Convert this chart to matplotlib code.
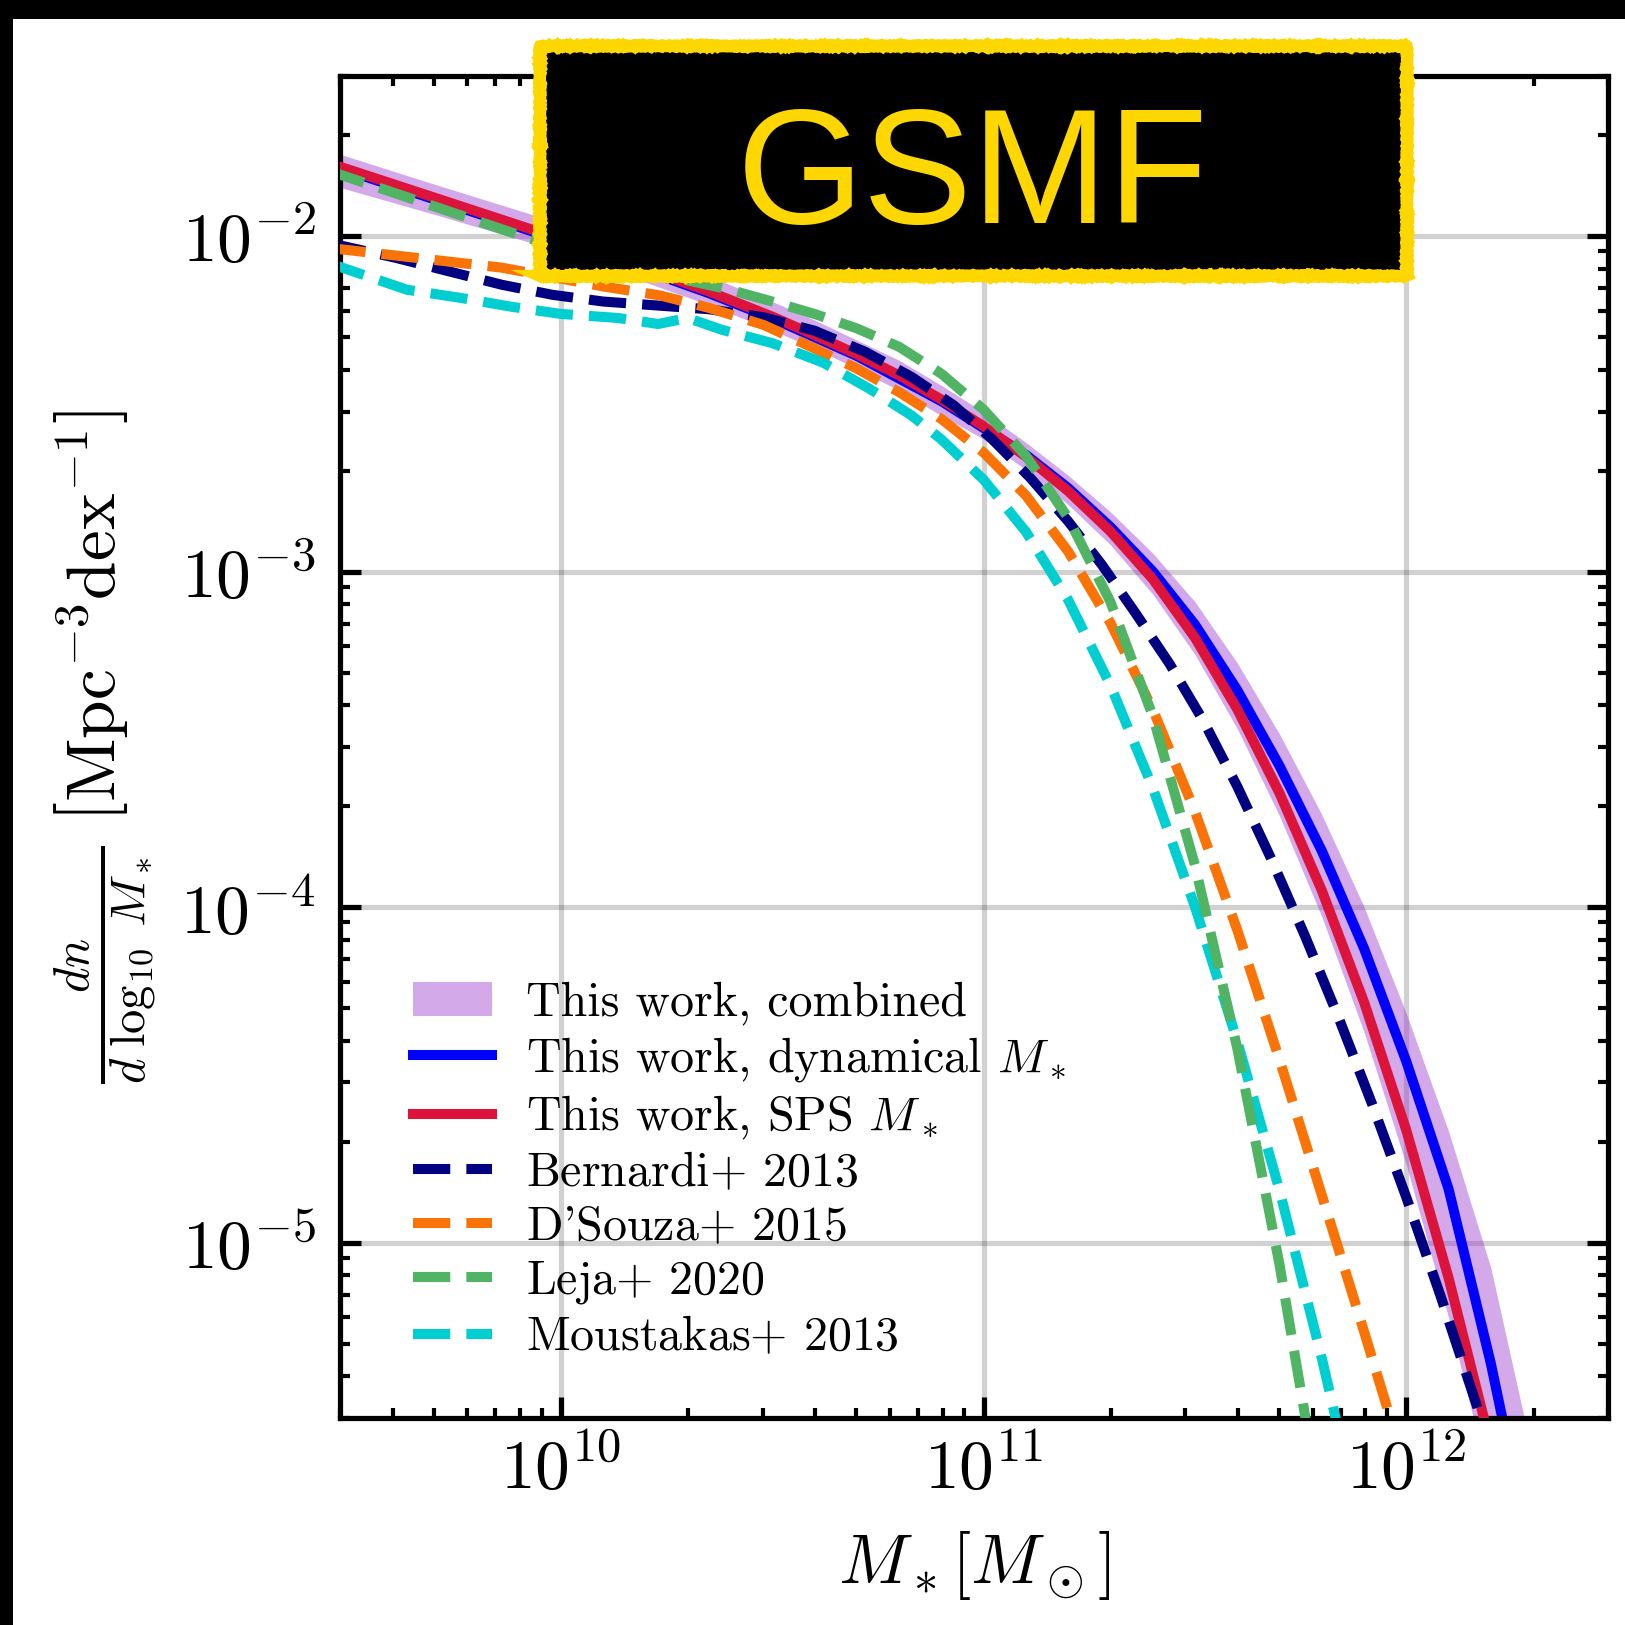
import numpy as np
import matplotlib
matplotlib.use("Agg")
import matplotlib.pyplot as plt
from matplotlib.patches import Rectangle

plt.rcParams["font.family"] = "serif"
plt.rcParams["font.serif"] = ["cmr10"]
plt.rcParams["mathtext.fontset"] = "cm"
plt.rcParams["axes.formatter.use_mathtext"] = True
plt.rcParams["axes.unicode_minus"] = False

# log10 stellar mass / log10 number density for each mass function
logm_comb = [9.45, 9.70, 9.93, 10.15, 10.35, 10.50, 10.60, 10.70, 10.80, 10.90, 11.00, 11.10,
             11.20, 11.30, 11.40, 11.50, 11.60, 11.70, 11.80, 11.90, 12.00, 12.10, 12.20, 12.30]
logphi_comb_hi = [-1.745, -1.845, -1.935, -2.03, -2.12, -2.195, -2.25, -2.31, -2.37, -2.445,
                  -2.525, -2.615, -2.713, -2.822, -2.945, -3.09, -3.272, -3.484, -3.724, -3.999,
                  -4.317, -4.668, -5.075, -5.64]
logphi_comb_lo = [-1.845, -1.935, -2.02, -2.115, -2.205, -2.28, -2.335, -2.395, -2.46, -2.535,
                  -2.605, -2.697, -2.80, -2.92, -3.067, -3.247, -3.468, -3.728, -4.028, -4.372,
                  -4.768, -5.223, -5.735, -6.3]

logm_dyn = [9.45, 9.70, 9.93, 10.15, 10.35, 10.50, 10.70, 10.90, 11.00, 11.10, 11.20, 11.30,
            11.40, 11.50, 11.60, 11.70, 11.80, 11.90, 12.00, 12.10, 12.20, 12.30]
logphi_dyn = [-1.787, -1.89, -1.985, -2.08, -2.17, -2.245, -2.357, -2.492, -2.572, -2.652,
              -2.751, -2.867, -2.999, -3.158, -3.353, -3.579, -3.832, -4.123, -4.46, -4.84,
              -5.36, -5.96]

logm_sps = [9.45, 9.70, 9.93, 10.15, 10.35, 10.50, 10.60, 10.70, 10.80, 10.90, 11.00, 11.10,
            11.20, 11.30, 11.40, 11.50, 11.60, 11.70, 11.80, 11.90, 12.00, 12.10, 12.20]
logphi_sps = [-1.782, -1.885, -1.98, -2.075, -2.165, -2.24, -2.295, -2.352, -2.415, -2.487,
              -2.567, -2.657, -2.76, -2.88, -3.022, -3.197, -3.41, -3.66, -3.95, -4.283,
              -4.665, -5.105, -5.605]

logm_b13 = [9.45, 9.61, 9.86, 9.98, 10.10, 10.23, 10.35, 10.48, 10.60, 10.72, 10.83, 10.93,
            11.02, 11.11, 11.20, 11.28, 11.36, 11.44, 11.52, 11.60, 11.68, 11.76, 11.84,
            11.92, 12.00, 12.08, 12.16, 12.22]
logphi_b13 = [-2.02, -2.065, -2.145, -2.175, -2.195, -2.207, -2.218, -2.242, -2.282, -2.345,
              -2.42, -2.505, -2.605, -2.72, -2.85, -2.98, -3.125, -3.275, -3.445, -3.64,
              -3.855, -4.085, -4.33, -4.59, -4.865, -5.155, -5.46, -5.69]

logm_d15 = [9.45, 9.86, 10.10, 10.235, 10.35, 10.48, 10.60, 10.70, 10.80, 10.90, 11.00, 11.10,
            11.20, 11.30, 11.40, 11.50, 11.60, 11.70, 11.80, 11.90, 12.00]
logphi_d15 = [-2.035, -2.094, -2.15, -2.177, -2.214, -2.265, -2.335, -2.395, -2.465, -2.545,
              -2.645, -2.773, -2.94, -3.153, -3.41, -3.715, -4.068, -4.455, -4.858, -5.265,
              -5.68]

logm_l20 = [9.45, 9.92, 10.15, 10.40, 10.50, 10.60, 10.70, 10.80, 10.90, 11.00, 11.10, 11.20,
            11.30, 11.40, 11.50, 11.60, 11.70, 11.80]
logphi_l20 = [-1.805, -2.005, -2.09, -2.16, -2.195, -2.232, -2.275, -2.33, -2.41, -2.517,
              -2.655, -2.84, -3.09, -3.43, -3.875, -4.42, -5.065, -5.81]

logm_m13 = [9.45, 9.636, 9.762, 9.88, 10.0, 10.135, 10.23, 10.30, 10.38, 10.50, 10.62, 10.73,
            10.83, 10.90, 11.00, 11.10, 11.20, 11.30, 11.40, 11.50, 11.60, 11.70, 11.80, 11.90]
logphi_m13 = [-2.08, -2.16, -2.184, -2.21, -2.232, -2.244, -2.262, -2.244, -2.279, -2.319,
              -2.377, -2.455, -2.535, -2.606, -2.726, -2.881, -3.084, -3.339, -3.644, -3.999,
              -4.399, -4.844, -5.344, -5.89]


def p10(a):
    return 10.0 ** np.asarray(a)


fig = plt.figure(figsize=(6.5, 6.5), dpi=250)
fig.patch.set_facecolor("white")

# dark strips along the top and left edge of the canvas
fig.add_artist(Rectangle((0, 1 - 19 / 1625), 1, 19 / 1625, transform=fig.transFigure,
                         fc="k", ec="none", zorder=0))
fig.add_artist(Rectangle((0, 0), 13 / 1625, 1, transform=fig.transFigure,
                         fc="k", ec="none", zorder=0))

ax = fig.add_axes([0.2092, 0.1274, 0.7803, 0.8258])
ax.set_xscale("log")
ax.set_yscale("log")
ax.set_axisbelow(True)
ax.grid(True, which="major", color="k", alpha=0.18, lw=1.5)

lw = 2.9
band = ax.fill_between(p10(logm_comb), p10(logphi_comb_lo), p10(logphi_comb_hi),
                       color="darkorchid", alpha=0.42, lw=0, zorder=1,
                       label="This work, combined")
l_dyn, = ax.plot(p10(logm_dyn), p10(logphi_dyn), color="blue", lw=lw, zorder=2,
                 label=r"This work, dynamical $M_*$")
l_sps, = ax.plot(p10(logm_sps), p10(logphi_sps), color="crimson", lw=lw, zorder=3,
                 label=r"This work, SPS $M_*$")
l_b13, = ax.plot(p10(logm_b13), p10(logphi_b13), "--", color="navy", lw=lw, zorder=4,
                 label=r"Bernardi$+$ 2013")
l_d15, = ax.plot(p10(logm_d15), p10(logphi_d15), "--", color="#f97306", lw=lw, zorder=5,
                 label=r"D'Souza$+$ 2015")
l_m13, = ax.plot(p10(logm_m13), p10(logphi_m13), "--", color="darkturquoise", lw=lw, zorder=6,
                 label=r"Moustakas$+$ 2013")
l_l20, = ax.plot(p10(logm_l20), p10(logphi_l20), "--", color="#50b464", lw=lw, zorder=7,
                 label=r"Leja$+$ 2020")

ax.set_xlim(3e9, 3e12)
ax.set_ylim(3e-6, 3e-2)

for s in ax.spines.values():
    s.set_linewidth(1.5)
ax.tick_params(which="both", direction="in", top=True, right=True)
ax.tick_params(which="major", length=6, width=1.5, labelsize=20)
ax.tick_params(which="minor", length=3, width=1.2)
ax.tick_params(axis="y", pad=7)
ax.tick_params(axis="x", pad=5)

ax.set_xlabel(r"$M_*[M_\odot]$", fontsize=20, labelpad=8)
ax.set_ylabel(r"$\frac{dn}{d\;\log_{10}\;M_*}\;\left[\mathrm{Mpc}^{-3}\mathrm{dex}^{-1}\right]$",
              fontsize=20, labelpad=6)

handles = [band, l_dyn, l_sps, l_b13, l_d15, l_l20, l_m13]
ax.legend(handles=handles, loc="lower left", bbox_to_anchor=(0.0576, 0.043),
          frameon=False, fontsize=13.8, borderpad=0, borderaxespad=0,
          handlelength=1.65, handletextpad=0.7, labelspacing=0.2)

# title badge with a rough yellow outline
badge = Rectangle((540 / 1625, 1 - 276 / 1625), 867 / 1625, 230 / 1625,
                  transform=fig.transFigure, fc="black", ec="gold", lw=3.5, zorder=10)
badge.set_sketch_params(scale=0.5, length=1.5, randomness=2)
fig.add_artist(badge)
fig.text(973 / 1625, 1 - 223 / 1625, "GSMF", color="gold", fontsize=47,
         family=["Liberation Sans", "DejaVu Sans"], ha="center", va="baseline", zorder=11)

fig.savefig("out.png", dpi=250)
